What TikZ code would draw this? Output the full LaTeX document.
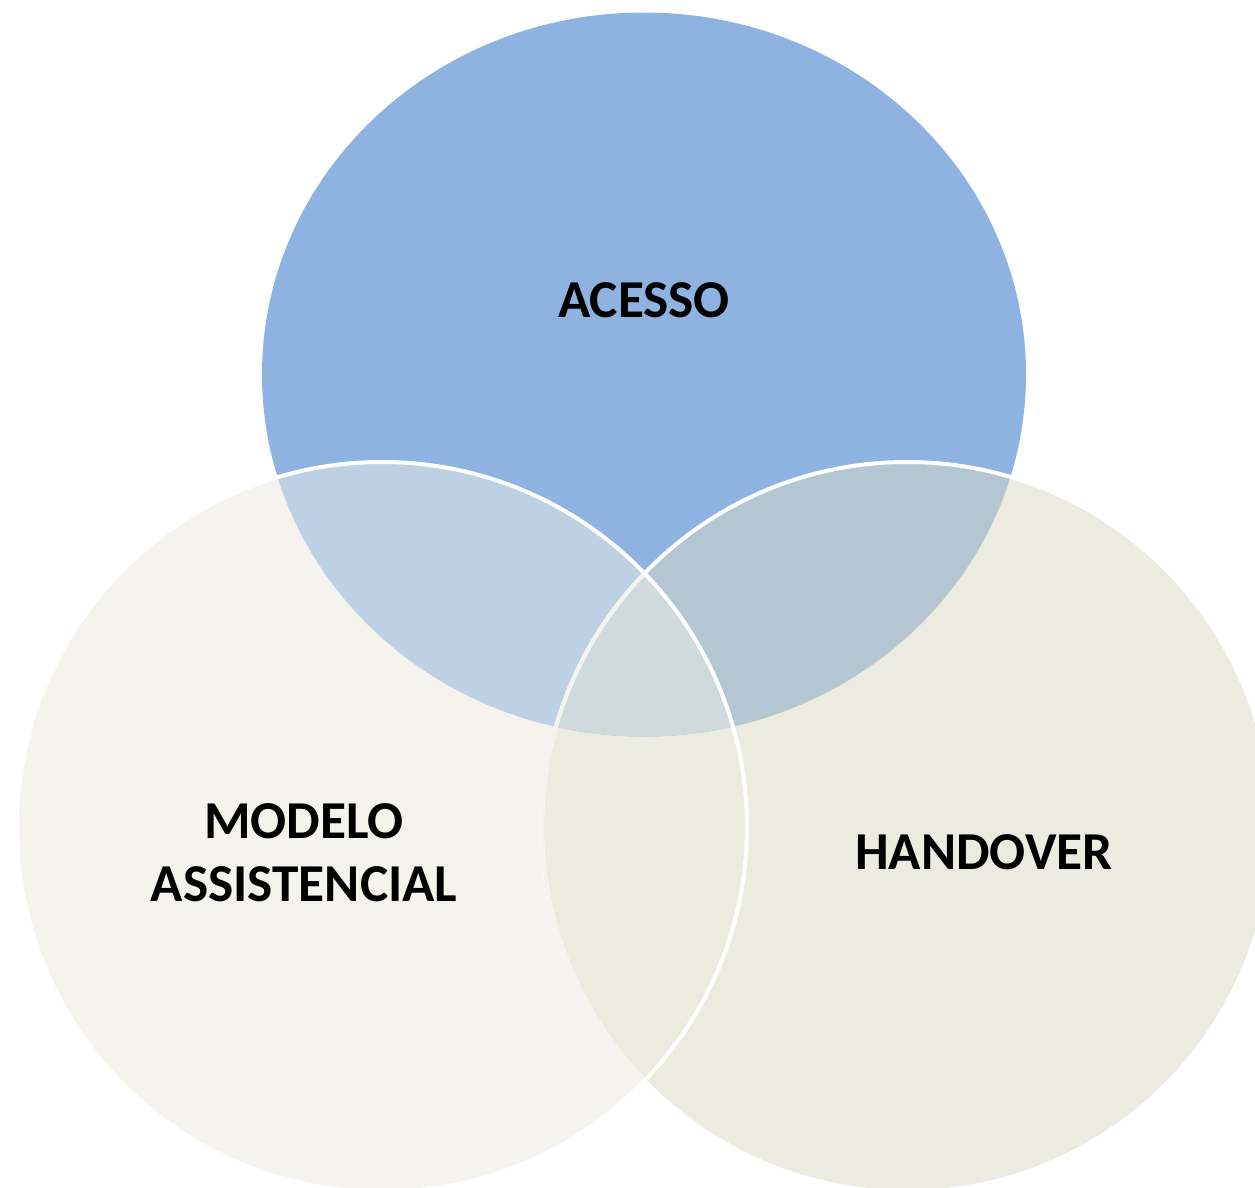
\documentclass[tikz,border=0pt]{standalone}
\usepackage{fontspec}
\setmainfont{Carlito}
\definecolor{topblue}{HTML}{8EB3E1}
\definecolor{leftc}{HTML}{F4F3EE}
\definecolor{rightc}{HTML}{ECEBE0}
\definecolor{tl}{HTML}{BDD0E4}
\definecolor{tr}{HTML}{B4C6D2}
\definecolor{mid}{HTML}{D0D9DC}
\begin{document}
\begin{tikzpicture}[x=1bp,y=-1bp,
  lbl/.style={font=\fontsize{53.5}{63}\selectfont\bfseries, text=black, align=center, inner sep=0pt}]
\useasboundingbox (0,0) rectangle (1255,1188);
\def\toppath{(644,374.5) ellipse [x radius=382bp, y radius=362bp]}
\def\leftpath{(382,827) circle [radius=365bp]}
\def\rightpath{(907,827) circle [radius=365bp]}
\fill[topblue] \toppath;
\fill[leftc] \leftpath;
\fill[rightc] \rightpath;
\begin{scope}
  \clip \toppath;
  \fill[tl] \leftpath;
  \fill[tr] \rightpath;
  \clip \leftpath;
  \fill[mid] \rightpath;
\end{scope}
\draw[white, line width=4bp] \rightpath;
\begin{scope}
  \clip \leftpath;
  \draw[leftc, line width=3.5bp] \rightpath;
\end{scope}
\draw[white, line width=4bp] \leftpath;
\node[lbl] (acesso) at (644,300) {ACESSO};
\node[lbl] (modelo) at (304,853) {MODELO\\ASSISTENCIAL};
\node[lbl] (handover) at (984,852) {HANDOVER};
\end{tikzpicture}
\end{document}
